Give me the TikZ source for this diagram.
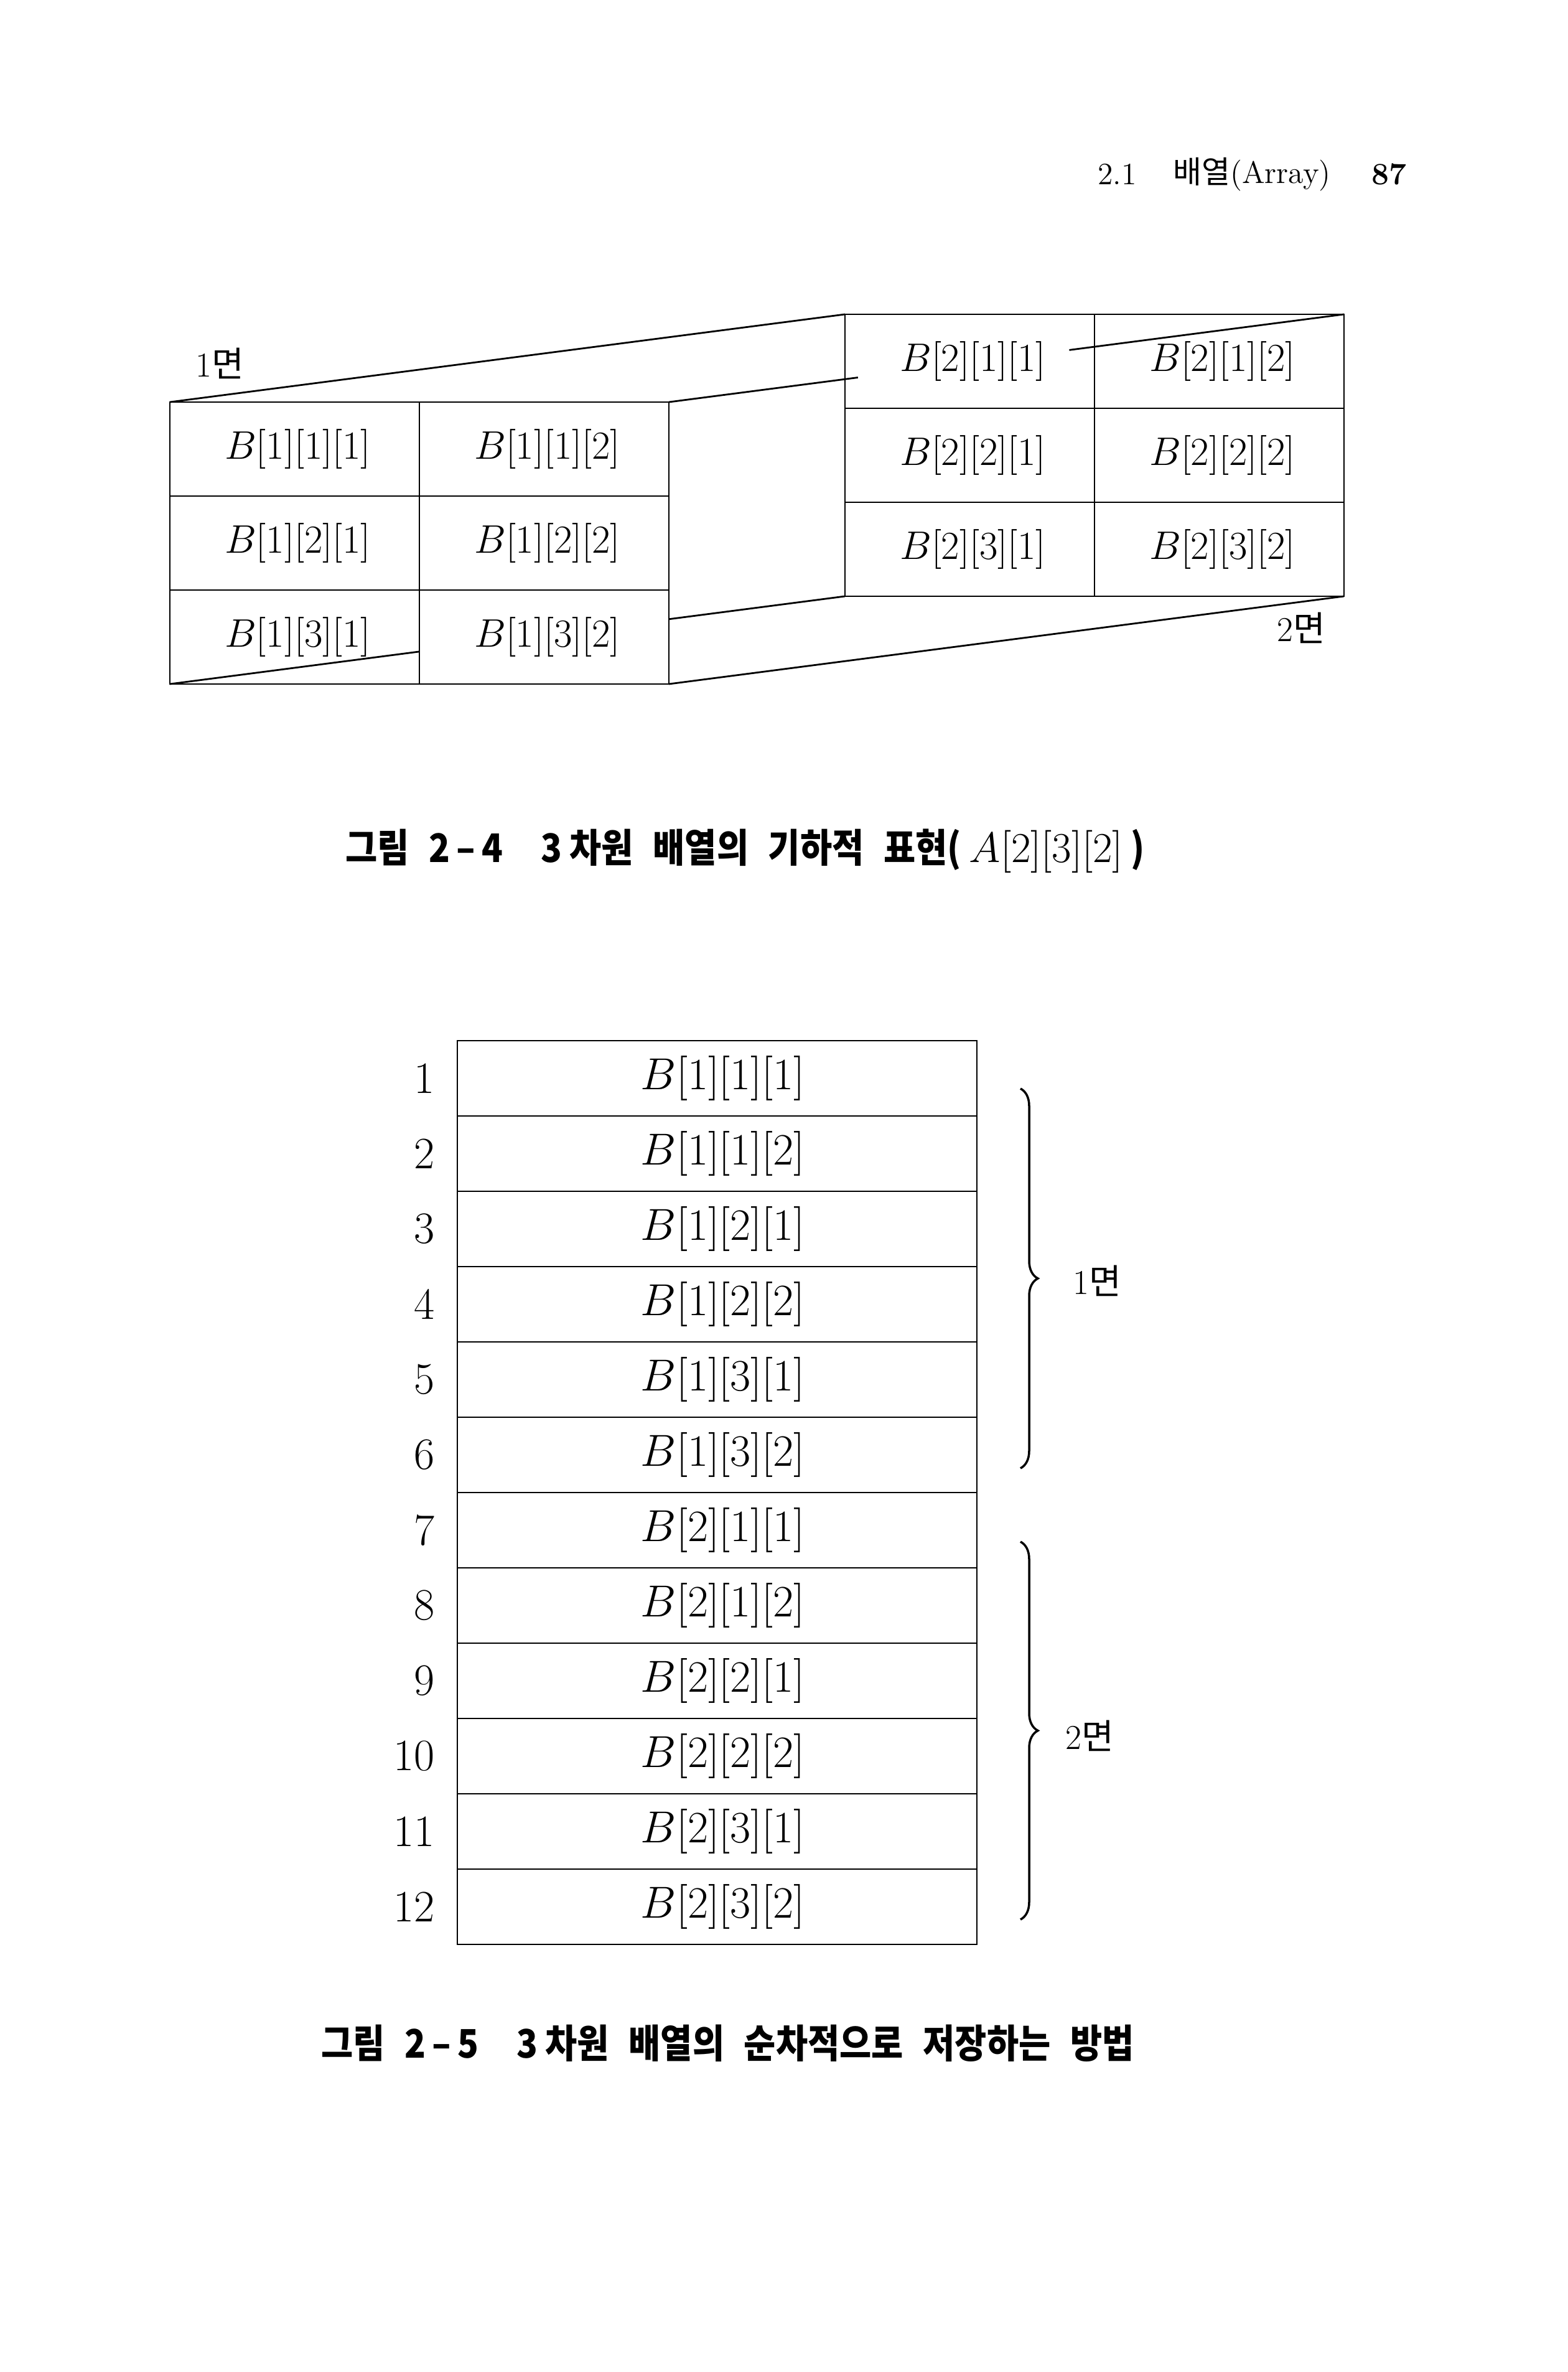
\RequirePackage{fix-cm}
\documentclass[tikz,border=0pt]{standalone}
\usepackage{fontspec}
\newfontfamily\krfont{Noto Sans CJK KR}
\newfontfamily\capfont[FakeStretch=0.88]{Noto Sans CJK KR}
\usetikzlibrary{calc,decorations.pathreplacing}
\tikzset{
  elem/.style={font=\fontsize{18.2}{21}\selectfont},
  slot/.style={font=\fontsize{20.5}{23}\selectfont},
  myun/.style={font=\fontsize{16}{18}\selectfont},
  head/.style={font=\fontsize{14.2}{16}\selectfont, anchor=west, inner sep=0},
  capt/.style={font=\capfont\bfseries\fontsize{18}{20}\selectfont, anchor=west, inner sep=0},
}
\newcommand{\gap}{\hspace{.5em}}
\begin{document}
\begin{tikzpicture}[line width=.8pt]
\useasboundingbox (0,0) rectangle (25.19,-38.11);

\node[head] (sec) at (17.63,-2.80) {2.1};
\node[head] (title) at (18.84,-2.80) {{\krfont 배열}(Array)};
\node[head] (page) at (22.03,-2.80) {\bfseries 87};

\coordinate (ftl) at (2.73,-6.46);
\coordinate (ftr) at (10.75,-6.46);
\coordinate (fbl) at (2.73,-10.99);
\coordinate (fbr) at (10.75,-10.99);
\coordinate (btl) at (13.58,-5.05);
\coordinate (btr) at (21.60,-5.05);
\coordinate (bbl) at (13.58,-9.58);
\coordinate (bbr) at (21.60,-9.58);

\foreach \x/\y in {2.73/-6.46, 13.58/-5.05}
{
    \draw (\x,\y) rectangle ++(8.02,-4.53);
    \draw (\x+4.01,\y) -- ++(0,-4.53);
    \foreach \r in {1,2} \draw (\x,\y-\r*1.51) -- ++(8.02,0);
}
\draw (ftl) -- (btl);
\draw (fbr) -- (bbr);
\draw (ftr) -- ($(ftr)!.28!(btr)$) ($(ftr)!.593!(btr)$) -- (btr);
\draw (fbl) -- ($(fbl)!.37!(bbl)$) ($(fbl)!.739!(bbl)$) -- (bbl);

\foreach \i in {1,2,3}
\foreach \j in {1,2}
{
    \node[elem] (f\i\j) at ({2.78+(\j-.5)*4.01},{-6.46-(\i-.5)*1.51}) {$B[1][\i][\j]$};
    \node[elem] (b\i\j) at ({13.63+(\j-.5)*4.01},{-5.05-(\i-.5)*1.51}) {$B[2][\i][\j]$};
}
\node[myun] (face1) at (3.53,-5.84) {1{\krfont 면}};
\node[myun] (face2) at (20.91,-10.09) {2{\krfont 면}};

\node[capt] (cap1) at (5.54,-13.67) {그림\gap 2\,–\,4\hspace{.95em}3 차원\gap 배열의\gap 기하적\gap 표현( {\normalfont\fontsize{19.5}{21}\selectfont$A[2][3][2]$} )};

\foreach \n/\a/\b/\c in {1/1/1/1,2/1/1/2,3/1/2/1,4/1/2/2,5/1/3/1,6/1/3/2,7/2/1/1,8/2/1/2,9/2/2/1,10/2/2/2,11/2/3/1,12/2/3/2}
{
    \draw (7.35,{-16.72-(\n-1)*1.21}) rectangle (15.70,{-16.72-\n*1.21});
    \node[slot] (s\n) at (11.62,{-16.72-(\n-.5)*1.21}) {$B[\a][\b][\c]$};
    \node[slot, anchor=east, inner sep=0] (n\n) at (7.0,{-16.72-(\n-.5)*1.21}) {\n};
}
\coordinate (u1) at (16.40,-17.49);
\coordinate (d1) at (16.40,-23.59);
\coordinate (u2) at (16.40,-24.77);
\coordinate (d2) at (16.40,-30.84);
\draw[decorate, decoration={brace, amplitude=.28cm}, line width=1pt] (u1) -- (d1);
\draw[decorate, decoration={brace, amplitude=.28cm}, line width=1pt] (u2) -- (d2);
\node[myun] (plane1) at (17.63,-20.58) {1{\krfont 면}};
\node[myun] (plane2) at (17.51,-27.89) {2{\krfont 면}};

\node[capt] (cap2) at (5.15,-32.83) {그림\gap 2\,–\,5\hspace{.95em}3 차원\gap 배열의\gap 순차적으로\gap 저장하는\gap 방법};
\end{tikzpicture}
\end{document}
